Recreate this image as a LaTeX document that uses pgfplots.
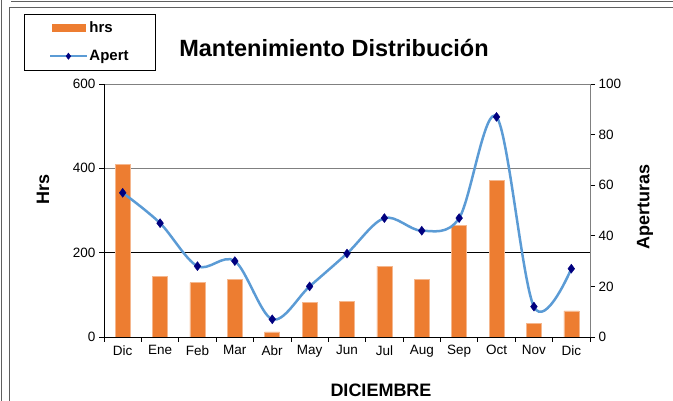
\documentclass[border=0pt]{standalone}
\usepackage{pgfplots}
\pgfplotsset{compat=1.18}
\usepackage{fontspec}
\setmainfont{Liberation Sans}
\definecolor{barorange}{HTML}{ED7D31}
\definecolor{lineblue}{HTML}{5B9BD5}
\definecolor{navy}{HTML}{00007F}
\definecolor{framegray}{HTML}{606060}

\pgfplotstableread{
x hrs apert
0 410 57
1 144 45
2 129 28
3 136 30
4 12 7
5 82 20
6 85 33
7 168 47
8 137 42
9 265 47
10 372 87
11 33 12
12 62 27
}\datatable

\pgfplotsset{
  mylinelegend/.style={legend image code/.code={\draw[mark repeat=2, mark phase=2, ##1, line width=2pt, mark size=3.2pt] plot coordinates {(0pt,0pt) (18pt,0pt) (36pt,0pt)};}},
  mybarlegend/.style={legend image code/.code={\fill[barorange] (1.5pt,-3.5pt) rectangle (35pt,3.5pt);}},
}

\begin{document}
\begin{tikzpicture}[x=1pt,y=1pt]
\path[use as bounding box] (0pt,0pt) rectangle (673pt,-401pt);
% frames
\draw[framegray, line width=1pt] (1.5pt,0pt) -- (1.5pt,-401pt);
\draw[framegray, line width=1pt] (11pt,-1.7pt) -- (673pt,-1.7pt);
\draw[framegray, line width=1pt] (9.5pt,-401pt) -- (9.5pt,-7.5pt) -- (673pt,-7.5pt);

\pgfplotsset{
  every tick label/.append style={font=\fontsize{13.5}{15}\selectfont},
  /pgf/number format/assume math mode=true,
}

\begin{axis}[
  at={(104pt,-337pt)}, anchor=south west, scale only axis,
  width=486pt, height=253pt,
  xmin=-0.5, xmax=12.5, ymin=0, ymax=600,
  axis x line*=bottom, axis y line*=left,
  axis line style={black, line width=0.8pt},
  xtick={0,...,12},
  xticklabels={Dic,Ene,Feb,Mar,Abr,May,Jun,Jul,Aug,Sep,Oct,Nov,Dic},
  major x tick style={draw=none},
  minor xtick={-0.5,0.5,...,12.5},
  minor x tick style={black, line width=0.8pt},
  ytick={0,400,600},
  extra y ticks={200},
  extra y tick style={ymajorgrids=true, major grid style={black, line width=0.8pt}},
  ymajorgrids,
  major grid style={gray, line width=0.8pt},
  tick align=outside,
  major tick length=5pt, minor tick length=5pt,
  y tick style={black, line width=0.8pt},
]
\addplot[ybar, bar width=15pt, fill=barorange, draw=barorange!55!white, line width=0.6pt] table[x=x, y=hrs] {\datatable};
\end{axis}

\begin{axis}[
  at={(104pt,-337pt)}, anchor=south west, scale only axis,
  width=486pt, height=253pt,
  xmin=-0.5, xmax=12.5, ymin=0, ymax=100,
  axis x line=none, axis y line*=right,
  y axis line style={gray, line width=0.8pt},
  ytick={0,20,...,100},
  tick align=outside,
  major tick length=5pt,
  y tick style={black, line width=0.8pt},
  legend style={at={(axis description cs:-0.0288,1.166)}, anchor=center,
    draw=black, line width=0.8pt, font=\bfseries\fontsize{15}{17}\selectfont,
    inner xsep=25pt, inner ysep=6pt, row sep=12pt, cells={anchor=west}},
]
\addlegendimage{mybarlegend}
\addlegendentry{hrs}
\addplot[smooth, tension=0.55, lineblue, line width=2.5pt,
  mark=diamond*, mark size=4.5pt,
  mark options={fill=navy, draw=navy, line width=0.4pt},
  mylinelegend
] table[x=x, y=apert] {\datatable};
\addlegendentry{Apert}
\end{axis}

\node[font=\bfseries\fontsize{23.5}{26}\selectfont] at (334pt,-48pt) {Mantenimiento Distribución};
\node[font=\bfseries\fontsize{18}{20}\selectfont, rotate=90] at (43pt,-189pt) {Hrs};
\node[font=\bfseries\fontsize{18}{20}\selectfont, rotate=90] at (645pt,-207pt) {Aperturas};
\node[font=\bfseries\fontsize{18}{20}\selectfont] at (381pt,-390pt) {DICIEMBRE};
\end{tikzpicture}
\end{document}
